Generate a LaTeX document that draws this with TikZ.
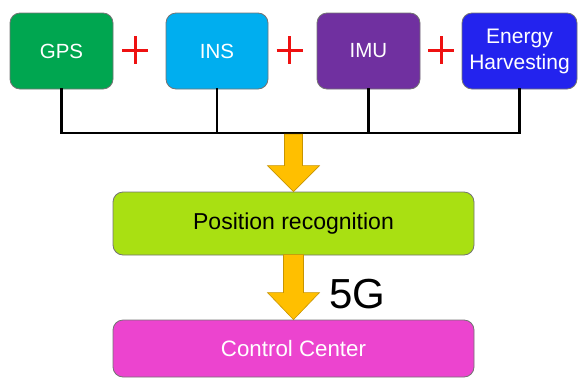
\documentclass[tikz,border=0pt]{standalone}
\usepackage{fontspec}
\setmainfont{Liberation Sans}
\usetikzlibrary{calc}
\definecolor{cgps}{HTML}{00A650}
\definecolor{cins}{HTML}{00AEEF}
\definecolor{cimu}{HTML}{7030A0}
\definecolor{cen}{HTML}{2323EE}
\definecolor{cpos}{HTML}{A9E012}
\definecolor{ccc}{HTML}{EC44CF}
\definecolor{carrow}{HTML}{FFBF00}
\definecolor{carrowe}{HTML}{C89400}
\definecolor{cplus}{HTML}{EE1111}
\tikzset{
  box/.style={draw=black!55, line width=0.8pt, rounded corners=10pt, align=center, inner sep=0pt},
  topbox/.style={box, minimum height=76pt, text=white, font=\fontsize{20.5}{26}\selectfont},
  widebox/.style={box, minimum width=361pt},
  bus/.style={line width=2.6pt, line cap=rect},
  fat/.style={fill=carrow, draw=carrowe, line width=0.6pt, line join=miter},
  plus/.style={draw=cplus, line width=3pt}
}
\begin{document}
\begin{tikzpicture}[x=1pt,y=-1pt]
\useasboundingbox (0,0) rectangle (578,378);
% top boxes
\node[topbox, fill=cgps, minimum width=103pt] (gps) at (61.5,51) {GPS};
\node[topbox, fill=cins, minimum width=102pt] (ins) at (217,51) {INS};
\node[topbox, fill=cimu, minimum width=103pt] (imu) at (368.5,51) {IMU};
\node[topbox, fill=cen, minimum width=115pt, font=\fontsize{21}{26}\selectfont] (en) at (519.5,51) {Energy\\Harvesting};
% plus signs
\foreach \px in {135,289.5,441}{
  \draw[plus] (\px-13,50) -- (\px+13,50);
  \draw[plus] (\px,36) -- (\px,64);
}
% lower boxes
\node[widebox, fill=cpos, minimum height=63pt, font=\fontsize{23}{28}\selectfont] (pos) at (293.5,223.5) {Position recognition};
\node[widebox, fill=ccc, minimum height=57pt, text=white, font=\fontsize{22.3}{28}\selectfont] (cc) at (293.5,348.5) {Control Center};
% bus
\coordinate (busy) at (0,133);
\draw[bus] (gps.south) -- (gps.south |- busy) -- (en.south |- busy) -- (en.south);
\draw[bus] (ins.south) -- (ins.south |- busy);
\draw[bus] (imu.south) -- (imu.south |- busy);
% arrow 1
\draw[fat] ($(pos.north)+(-9,-57.5)$) -- ($(pos.north)+(-9,-26)$) -- ($(pos.north)+(-26,-26)$)
  -- (pos.north) -- ($(pos.north)+(26,-26)$) -- ($(pos.north)+(9,-26)$) -- ($(pos.north)+(9,-57.5)$) -- cycle;
% arrow 2
\draw[fat] ($(cc.north)+(-10,-65)$) -- ($(cc.north)+(-10,-27)$) -- ($(cc.north)+(-26,-27)$)
  -- (cc.north) -- ($(cc.north)+(26,-27)$) -- ($(cc.north)+(10,-27)$) -- ($(cc.north)+(10,-65)$) -- cycle;
\node[anchor=base west, inner sep=0pt, font=\fontsize{42}{42}\selectfont] (g5) at (329,308) {5G};
\end{tikzpicture}
\end{document}
